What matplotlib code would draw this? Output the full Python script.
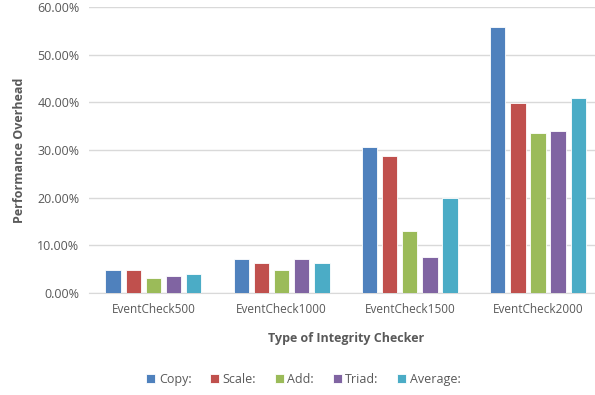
import matplotlib
matplotlib.use("Agg")
import matplotlib.pyplot as plt
import numpy as np

categories = ["EventCheck500", "EventCheck1000", "EventCheck1500", "EventCheck2000"]
series = ["Copy:", "Scale:", "Add:", "Triad:", "Average:"]
copy = [4.8, 7.2, 30.7, 55.8]
scale = [4.8, 6.4, 28.8, 39.9]
add = [3.2, 4.8, 13.1, 33.5]
triad = [3.5, 7.2, 7.6, 34.0]
average = [4.0, 6.4, 19.9, 40.9]
yticks = [0, 10, 20, 30, 40, 50, 60]

colors = ["#4F81BD", "#C0504D", "#9BBB59", "#8064A2", "#4BACC6"]
txt = "#595959"
plt.rcParams['font.family'] = ['Open Sans', 'DejaVu Sans']

fig = plt.figure(figsize=(5.95, 3.95), dpi=100)
ax = fig.add_axes([0.15, 0.258, 0.862, 0.724])

x = np.arange(len(categories))
pitch = 0.157
width = 0.12
for i, (name, vals) in enumerate(zip(series, [copy, scale, add, triad, average])):
    ax.bar(x + (i - 2) * pitch, vals, width, color=colors[i], label=name,
           edgecolor="white", linewidth=0.6, zorder=3)

ax.set_xlim(-0.5, 3.5)
ax.set_ylim(0, 60)
ax.set_yticks(yticks)
ax.set_yticklabels(["%.2f%%" % v for v in yticks], fontsize=9, color=txt)
ax.set_xticks(x)
ax.set_xticklabels(categories, fontsize=8.5, color=txt)
ax.tick_params(length=0, pad=7)
ax.grid(axis="y", color="#D9D9D9", linewidth=1, zorder=0)
for s in ["top", "right", "left"]:
    ax.spines[s].set_visible(False)
ax.spines["bottom"].set_color("#D9D9D9")

ax.set_xlabel("Type of Integrity Checker", fontsize=9, fontweight="bold", color=txt, labelpad=12)
ax.set_ylabel("Performance Overhead", fontsize=9, fontweight="bold", color=txt, labelpad=8)

fig.legend(loc="center", bbox_to_anchor=(0.51, 0.04), ncol=5, frameon=False,
           fontsize=9, labelcolor=txt, handlelength=0.7, handleheight=0.7,
           handletextpad=0.3, columnspacing=1.5)

fig.savefig("out.png", dpi=100)
